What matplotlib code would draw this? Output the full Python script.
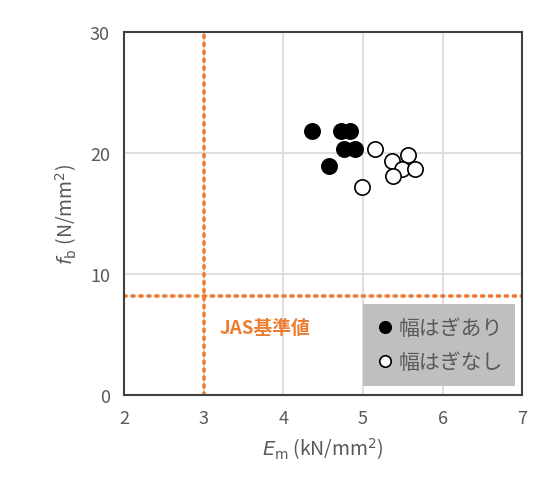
import matplotlib.pyplot as plt

plt.rcParams['font.family'] = ['Noto Sans CJK JP', 'DejaVu Sans']
plt.rcParams['mathtext.fontset'] = 'dejavusans'

# 幅はぎあり (filled)
em_ari = [4.36, 4.73, 4.84, 4.76, 4.90, 4.57]
fb_ari = [21.8, 21.8, 21.8, 20.3, 20.3, 18.95]

# 幅はぎなし (open)
em_nashi = [5.15, 4.99, 5.36, 5.56, 5.49, 5.66, 5.38]
fb_nashi = [20.3, 17.2, 19.3, 19.8, 18.7, 18.7, 18.1]

# JAS基準値
jas_em = 3.0
jas_fb = 8.2

orange = '#ED7D31'
gray = '#595959'

fig = plt.figure(figsize=(5.48, 4.85), dpi=100)
ax = fig.add_axes([0.226, 0.1835, 0.727, 0.7485])

ax.axvline(jas_em, color=orange, linestyle=(0, (0.6, 1.6)), linewidth=2.6,
           dash_capstyle='round', zorder=2)
ax.axhline(jas_fb, color=orange, linestyle=(0, (0.6, 1.6)), linewidth=2.6,
           dash_capstyle='round', zorder=2)

ax.plot(em_ari, fb_ari, 'o', color='black', markersize=11, markeredgewidth=1.2,
        label='幅はぎあり', zorder=3)
ax.plot(em_nashi, fb_nashi, 'o', markerfacecolor='white', markeredgecolor='black',
        markersize=11, markeredgewidth=1.2, label='幅はぎなし', zorder=3)

ax.text(3.2, 5.6, 'JAS基準値', color=orange, fontsize=13.5, fontweight='bold',
        va='center', ha='left')

ax.set_xlim(2, 7)
ax.set_ylim(0, 30)
ax.set_xticks([2, 3, 4, 5, 6, 7])
ax.set_yticks([0, 10, 20, 30])
ax.grid(True, color='#D9D9D9', linewidth=1.2)
ax.set_axisbelow(True)
ax.tick_params(length=0, labelsize=13, labelcolor=gray, pad=10)
for s in ax.spines.values():
    s.set_color('#404040')
    s.set_linewidth(1.5)

ax.set_xlabel('$E_\\mathrm{m}$ (kN/mm$^2$)', fontsize=14, color=gray, labelpad=6)
ax.set_ylabel('$f_\\mathrm{b}$ (N/mm$^2$)', fontsize=14, color=gray, labelpad=8)

leg = ax.legend(loc='lower right', bbox_to_anchor=(0.982, 0.025), fontsize=15,
                frameon=True, fancybox=False, facecolor='#BFBFBF', edgecolor='none',
                framealpha=1, handletextpad=0.2, handlelength=0.9, borderpad=0.6,
                labelspacing=0.6, markerscale=0.75, borderaxespad=0)
for t in leg.get_texts():
    t.set_color(gray)

fig.savefig('out.png', dpi=100)
